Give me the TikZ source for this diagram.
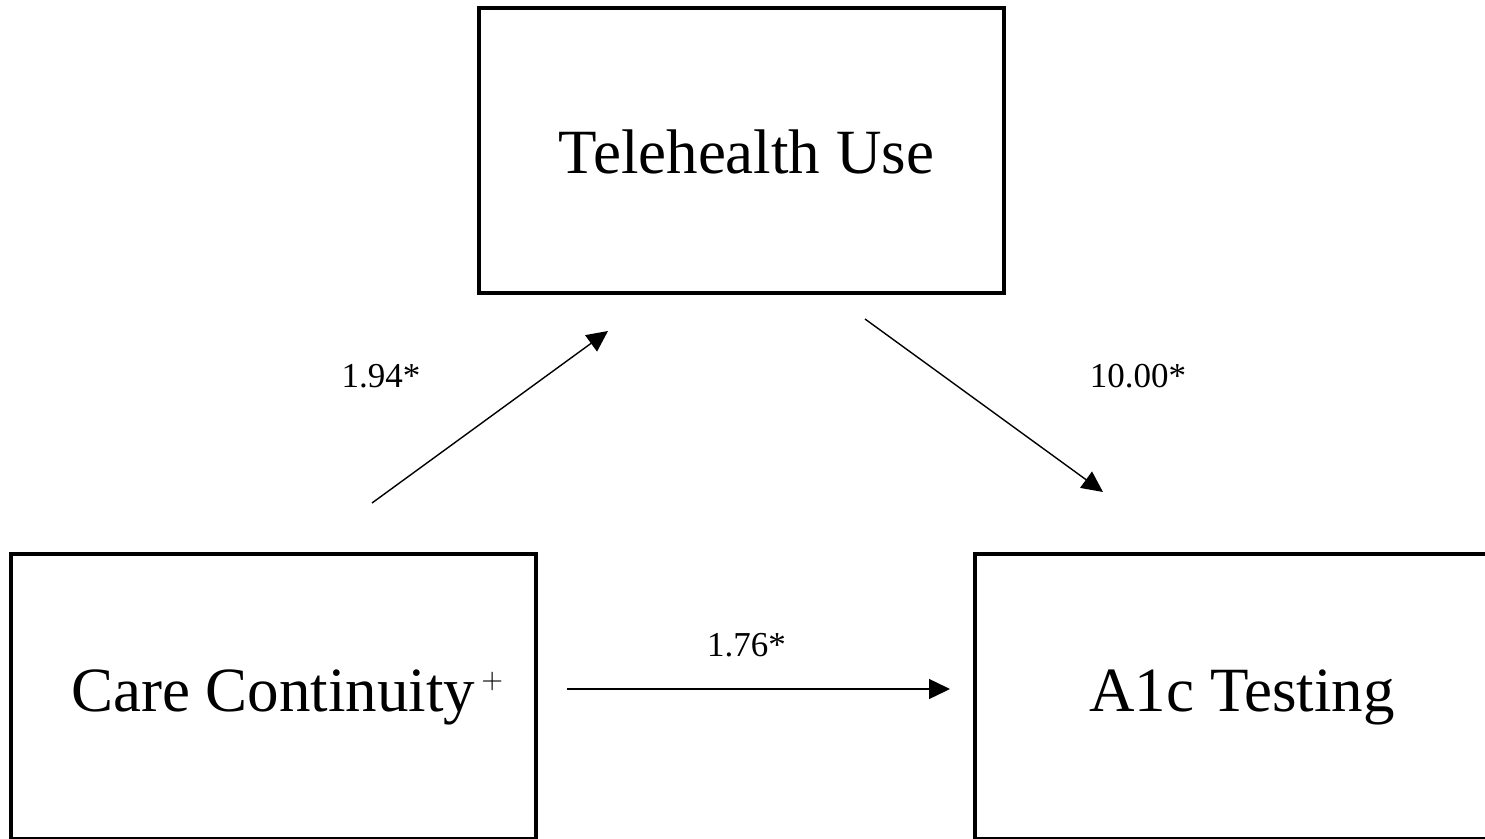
\documentclass[tikz,border=0pt]{standalone}
\usepackage{graphicx}
\usepackage{fontspec}
\setmainfont{Liberation Serif}
\usetikzlibrary{arrows.meta}
\begin{document}
\begin{tikzpicture}[x=1pt,y=-1pt,
  boxnode/.style={draw=black,line width=4pt,minimum width=525pt,minimum height=285pt,inner sep=0pt,fill=none},
  bigtext/.style={font=\fontsize{63}{70}\selectfont,inner sep=0pt},
  coef/.style={font=\fontsize{35}{40}\selectfont,inner sep=0pt},
  path/.style={line width=1.4pt,-{Triangle[length=21pt,width=20pt]}}]
\useasboundingbox (0,0) rectangle (1485,838);
\fill[white] (0,0) rectangle (1485,838);
% boxes
\node[boxnode] (tele) at (741.5,150) {};
\node[boxnode] (care) at (273.7,696) {};
\node[boxnode] (a1c) at (1237.5,696) {};
% texts
\node[bigtext,anchor=base] (teletext) at (746.5,173) {Telehealth Use};
\node[bigtext,anchor=base west] (caretext) at (71,711) {Care Continuity\hspace{6pt}\raisebox{23pt}{\normalsize\scalebox{2.8}{$+$}}};
\node[bigtext,anchor=base] (a1ctext) at (1242,711) {A1c Testing};
% connector end points
\coordinate (p1s) at (372,503);
\coordinate (p1e) at (608,331);
\coordinate (p2s) at (865,319);
\coordinate (p2e) at (1103,492);
\coordinate (p3s) at (567,689);
\coordinate (p3e) at (950,689);
\draw[path] (p1s) -- (p1e);
\draw[path] (p2s) -- (p2e);
\draw[path] (p3s) -- (p3e);
% coefficients
\node[coef] (c1) at (381,376) {1.94*};
\node[coef] (c2) at (1138,376) {10.00*};
\node[coef] (c3) at (746.5,645) {1.76*};
\end{tikzpicture}
\end{document}
